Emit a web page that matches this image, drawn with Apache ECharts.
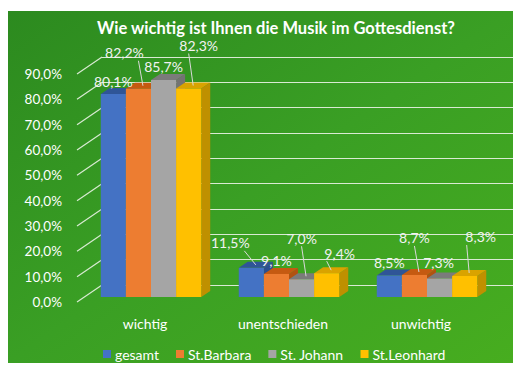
<!DOCTYPE html>
<html>
<head>
<meta charset="utf-8">
<script src="https://cdn.jsdelivr.net/npm/echarts@6/dist/echarts.min.js"></script>
<style>
  html, body { margin: 0; padding: 0; background: #fff; }
  #chart { width: 514px; height: 367px; }
</style>
</head>
<body>
<div id="chart"></div>
<script>
  /** Data */
  var categories = ['wichtig', 'unentschieden', 'unwichtig'];
  var seriesNames = ['gesamt', 'St.Barbara', 'St. Johann', 'St.Leonhard'];
  var gesamt = [80.1, 11.5, 8.5];
  var stBarbara = [82.2, 9.1, 8.7];
  var stJohann = [85.7, 7.0, 7.3];
  var stLeonhard = [82.3, 9.4, 8.3];
  var yTicks = [0, 10, 20, 30, 40, 50, 60, 70, 80, 90];

  /** Styles */
  var faceColors = ['#4472c4', '#ed7d31', '#a5a5a5', '#ffc000'];
  var topColors = ['#2f5597', '#c55a11', '#7b7b7b', '#d9a300'];
  var sideColors = ['#2c4f8f', '#b25210', '#737373', '#bf9000'];
  // label offsets from the bar's top edge: [dx, dy, leader line]
  var labelShift = [
    [[0, -13, 0], [-21, -25, 1], [0, -13, 0]],
    [[-14, -36, 1], [0, -13, 0], [0, -37, 1]],
    [[0, -13, 0], [0, -41, 1], [-1, -16, 0]],
    [[10, -43, 1], [13, -20, 1], [16, -39, 1]]
  ];
  var FONT = 'Lato';
  var DEPTH_X = 9, DEPTH_Y = 6, LIFT = 5;

  var allValues = [gesamt, stBarbara, stJohann, stLeonhard];

  function fmt(v) {
    return v.toFixed(1).replace('.', ',') + '%';
  }

  function barGeom(api, si, cat, v) {
    var top = api.coord([cat, v]);
    var base = api.coord([cat, 0]);
    var band = api.size([1, 0])[0];
    var bw = band * 0.182;
    var x = top[0] + (si - 2) * bw;
    return { x: x, w: bw, yT: top[1] - LIFT, yB: base[1] - LIFT };
  }

  function barRenderer(si) {
    return function(params, api) {
      var g = barGeom(api, si, api.value(0), api.value(1));
      return {
        type: 'group',
        children: [{
          type: 'polygon',
          shape: { points: [[g.x + g.w, g.yT], [g.x + g.w + DEPTH_X, g.yT - DEPTH_Y],
            [g.x + g.w + DEPTH_X, g.yB - DEPTH_Y], [g.x + g.w, g.yB]] },
          style: { fill: sideColors[si] }
        }, {
          type: 'polygon',
          shape: { points: [[g.x, g.yT], [g.x + DEPTH_X, g.yT - DEPTH_Y],
            [g.x + g.w + DEPTH_X, g.yT - DEPTH_Y], [g.x + g.w, g.yT]] },
          style: { fill: topColors[si] }
        }, {
          type: 'rect',
          shape: { x: g.x, y: g.yT, width: g.w, height: g.yB - g.yT },
          style: { fill: faceColors[si] }
        }]
      };
    };
  }

  var series = [];
  seriesNames.forEach(function(name, si) {
    series.push({
      name: name,
      type: 'custom',
      xAxisIndex: 0,
      yAxisIndex: 0,
      itemStyle: { color: faceColors[si] },
      renderItem: barRenderer(si),
      data: allValues[si].map(function(v, ci) { return [ci, v]; }),
      z: 3
    });
  });

  // labels with leader lines, drawn above all bars
  var labelData = [];
  allValues.forEach(function(vals, si) {
    vals.forEach(function(v, ci) { labelData.push([ci, v, si]); });
  });
  series.push({
    type: 'custom',
    xAxisIndex: 0,
    yAxisIndex: 0,
    z: 5,
    silent: true,
    encode: { x: 0, y: 1 },
    renderItem: function(params, api) {
      var ci = api.value(0), v = api.value(1), si = api.value(2);
      var g = barGeom(api, si, ci, v);
      var s = labelShift[si][ci];
      var cx = g.x + g.w / 2;
      var lx = cx + s[0], ly = g.yT + s[1];
      var children = [{
        type: 'text',
        style: {
          text: fmt(v), x: lx, y: ly, align: 'center', verticalAlign: 'middle',
          fill: '#f2f2f2', font: '14px ' + FONT
        }
      }];
      if (s[2]) {
        var sx = Math.min(Math.max(cx, lx - 14), lx + 14);
        children.push({
          type: 'line',
          shape: { x1: sx, y1: ly + 8, x2: cx + DEPTH_X / 2, y2: g.yT - DEPTH_Y / 2 },
          style: { stroke: '#d9d9d9', lineWidth: 1 }
        });
      }
      return { type: 'group', children: children };
    },
    data: labelData
  });

  // diagonal wall edges from the axis labels to the back wall
  series.push({
    type: 'custom',
    xAxisIndex: 0,
    yAxisIndex: 0,
    z: 1,
    silent: true,
    renderItem: function(params, api) {
      var p = api.coord([0, api.value(0)]);
      var x0 = params.coordSys.x;
      return {
        type: 'line',
        shape: { x1: x0 - 5, y1: p[1], x2: x0 + 20, y2: p[1] - 17 },
        style: { stroke: '#d9ead3', lineWidth: 1.2 }
      };
    },
    data: yTicks.map(function(t) { return [t]; }),
    encode: { y: 0 }
  });

  var option = {
    backgroundColor: '#ffffff',
    graphic: [{
      type: 'rect',
      z: -10,
      shape: { x: 8, y: 11, width: 505, height: 352 },
      style: {
        fill: new echarts.graphic.LinearGradient(0, 0, 1, 1, [
          { offset: 0, color: '#2c8a1f' },
          { offset: 0.5, color: '#3a9f24' },
          { offset: 1, color: '#47ad1f' }
        ])
      }
    }],
    title: {
      text: 'Wie wichtig ist Ihnen die Musik im Gottesdienst?',
      left: 271,
      textAlign: 'center',
      top: 14,
      textStyle: { color: '#ffffff', fontWeight: 'bold', fontSize: 16.5, fontFamily: FONT }
    },
    legend: {
      data: seriesNames,
      left: 98,
      top: 342,
      icon: 'rect',
      itemWidth: 8,
      itemHeight: 8,
      itemGap: 17,
      textStyle: { color: '#ffffff', fontSize: 14, fontFamily: FONT, padding: [0, 0, 0, -1] }
    },
    grid: [
      { left: 82, right: 18, top: 74, bottom: 65 },
      { left: 102, right: 1, top: 57, bottom: 82 }
    ],
    xAxis: [{
      type: 'category',
      gridIndex: 0,
      data: categories,
      axisLine: { show: false },
      axisTick: { show: false },
      axisLabel: { color: '#ffffff', fontSize: 14, fontFamily: FONT, margin: 14, padding: [0, 12, 0, 0] }
    }, {
      type: 'category',
      gridIndex: 1,
      data: categories,
      show: false
    }],
    yAxis: [{
      type: 'value',
      gridIndex: 0,
      min: 0,
      max: 90,
      interval: 10,
      axisLine: { show: false },
      axisTick: { show: false },
      splitLine: { show: false },
      axisLabel: {
        color: '#ffffff', fontSize: 13.5, fontFamily: FONT, margin: 20,
        formatter: function(v) { return fmt(v); }
      }
    }, {
      type: 'value',
      gridIndex: 1,
      min: 0,
      max: 90,
      interval: 10,
      axisLine: { show: false },
      axisTick: { show: false },
      axisLabel: { show: false },
      splitLine: { lineStyle: { color: '#d9ead3', width: 1.2 } }
    }],
    series: series
  };

  echarts.init(document.getElementById('chart'), null, { renderer: 'svg' }).setOption(option);
</script>
</body>
</html>
